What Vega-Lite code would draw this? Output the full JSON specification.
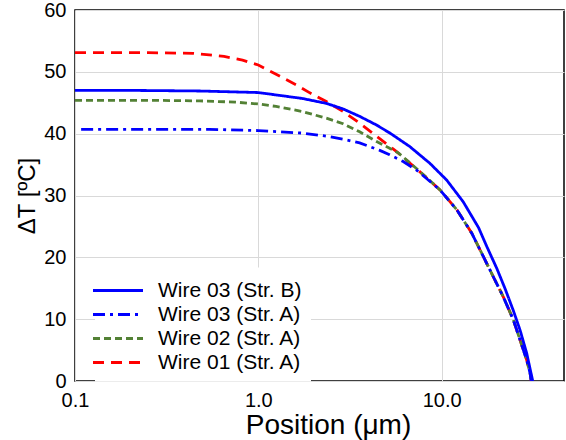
{
  "$schema": "https://vega.github.io/schema/vega-lite/v6.json",
  "width": 489,
  "height": 371,
  "autosize": {"type": "none"},
  "padding": {"left": 75, "top": 10, "right": 2, "bottom": 59},
  "background": "white",
  "config": {
    "font": "Liberation Sans",
    "view": {"stroke": "black", "strokeWidth": 1.5},
    "axis": {
      "grid": true, "gridColor": "#d9d9d9", "gridWidth": 1,
      "domain": false, "ticks": false,
      "labelFont": "Liberation Sans", "labelFontSize": 20, "labelColor": "black",
      "titleFont": "Liberation Sans", "titleFontWeight": "normal", "titleColor": "black"
    }
  },
  "data": {"values": [
    {"series": "Wire 01 (Str. A)", "x": 0.1, "y": 53.1},
    {"series": "Wire 01 (Str. A)", "x": 0.25, "y": 53.1},
    {"series": "Wire 01 (Str. A)", "x": 0.44, "y": 53.0},
    {"series": "Wire 01 (Str. A)", "x": 0.65, "y": 52.5},
    {"series": "Wire 01 (Str. A)", "x": 0.82, "y": 51.9},
    {"series": "Wire 01 (Str. A)", "x": 1.0, "y": 51.1},
    {"series": "Wire 01 (Str. A)", "x": 1.25, "y": 49.6},
    {"series": "Wire 01 (Str. A)", "x": 1.61, "y": 47.9},
    {"series": "Wire 01 (Str. A)", "x": 1.91, "y": 46.6},
    {"series": "Wire 01 (Str. A)", "x": 2.35, "y": 45.2},
    {"series": "Wire 01 (Str. A)", "x": 2.9, "y": 43.6},
    {"series": "Wire 01 (Str. A)", "x": 3.57, "y": 41.7},
    {"series": "Wire 01 (Str. A)", "x": 4.41, "y": 39.6},
    {"series": "Wire 01 (Str. A)", "x": 5.68, "y": 37.1},
    {"series": "Wire 01 (Str. A)", "x": 7.5, "y": 34.0},
    {"series": "Wire 01 (Str. A)", "x": 9.8, "y": 30.9},
    {"series": "Wire 01 (Str. A)", "x": 12.1, "y": 27.7},
    {"series": "Wire 01 (Str. A)", "x": 14.6, "y": 23.9},
    {"series": "Wire 01 (Str. A)", "x": 16.9, "y": 20.1},
    {"series": "Wire 01 (Str. A)", "x": 19.1, "y": 16.9},
    {"series": "Wire 01 (Str. A)", "x": 21.7, "y": 13.6},
    {"series": "Wire 01 (Str. A)", "x": 24.6, "y": 9.9},
    {"series": "Wire 01 (Str. A)", "x": 26.8, "y": 6.6},
    {"series": "Wire 01 (Str. A)", "x": 29.1, "y": 3.4},
    {"series": "Wire 01 (Str. A)", "x": 30.4, "y": 1.2},
    {"series": "Wire 01 (Str. A)", "x": 30.8, "y": 0},

    {"series": "Wire 02 (Str. A)", "x": 0.1, "y": 45.4},
    {"series": "Wire 02 (Str. A)", "x": 0.25, "y": 45.4},
    {"series": "Wire 02 (Str. A)", "x": 0.48, "y": 45.3},
    {"series": "Wire 02 (Str. A)", "x": 0.75, "y": 45.1},
    {"series": "Wire 02 (Str. A)", "x": 1.0, "y": 44.8},
    {"series": "Wire 02 (Str. A)", "x": 1.25, "y": 44.4},
    {"series": "Wire 02 (Str. A)", "x": 1.73, "y": 43.6},
    {"series": "Wire 02 (Str. A)", "x": 2.35, "y": 42.5},
    {"series": "Wire 02 (Str. A)", "x": 2.9, "y": 41.6},
    {"series": "Wire 02 (Str. A)", "x": 3.57, "y": 40.3},
    {"series": "Wire 02 (Str. A)", "x": 4.5, "y": 38.6},
    {"series": "Wire 02 (Str. A)", "x": 5.8, "y": 36.9},
    {"series": "Wire 02 (Str. A)", "x": 7.6, "y": 33.9},
    {"series": "Wire 02 (Str. A)", "x": 9.8, "y": 30.9},
    {"series": "Wire 02 (Str. A)", "x": 12.1, "y": 27.7},
    {"series": "Wire 02 (Str. A)", "x": 14.6, "y": 23.9},
    {"series": "Wire 02 (Str. A)", "x": 16.9, "y": 20.1},
    {"series": "Wire 02 (Str. A)", "x": 19.1, "y": 16.9},
    {"series": "Wire 02 (Str. A)", "x": 21.7, "y": 13.6},
    {"series": "Wire 02 (Str. A)", "x": 24.6, "y": 9.9},
    {"series": "Wire 02 (Str. A)", "x": 26.8, "y": 6.6},
    {"series": "Wire 02 (Str. A)", "x": 29.1, "y": 3.4},
    {"series": "Wire 02 (Str. A)", "x": 30.4, "y": 1.2},
    {"series": "Wire 02 (Str. A)", "x": 30.8, "y": 0},

    {"series": "Wire 03 (Str. A)", "x": 0.108, "y": 40.7},
    {"series": "Wire 03 (Str. A)", "x": 0.25, "y": 40.7},
    {"series": "Wire 03 (Str. A)", "x": 0.54, "y": 40.7},
    {"series": "Wire 03 (Str. A)", "x": 1.0, "y": 40.5},
    {"series": "Wire 03 (Str. A)", "x": 1.73, "y": 40.1},
    {"series": "Wire 03 (Str. A)", "x": 2.35, "y": 39.6},
    {"series": "Wire 03 (Str. A)", "x": 2.9, "y": 39.1},
    {"series": "Wire 03 (Str. A)", "x": 3.57, "y": 38.5},
    {"series": "Wire 03 (Str. A)", "x": 4.06, "y": 37.9},
    {"series": "Wire 03 (Str. A)", "x": 4.6, "y": 37.3},
    {"series": "Wire 03 (Str. A)", "x": 5.2, "y": 36.6},
    {"series": "Wire 03 (Str. A)", "x": 6.17, "y": 35.5},
    {"series": "Wire 03 (Str. A)", "x": 7.3, "y": 34.1},
    {"series": "Wire 03 (Str. A)", "x": 9.8, "y": 30.9},
    {"series": "Wire 03 (Str. A)", "x": 12.1, "y": 27.7},
    {"series": "Wire 03 (Str. A)", "x": 14.6, "y": 23.9},
    {"series": "Wire 03 (Str. A)", "x": 16.9, "y": 20.1},
    {"series": "Wire 03 (Str. A)", "x": 19.1, "y": 16.9},
    {"series": "Wire 03 (Str. A)", "x": 21.7, "y": 13.6},
    {"series": "Wire 03 (Str. A)", "x": 24.6, "y": 9.9},
    {"series": "Wire 03 (Str. A)", "x": 26.8, "y": 6.6},
    {"series": "Wire 03 (Str. A)", "x": 29.1, "y": 3.4},
    {"series": "Wire 03 (Str. A)", "x": 30.4, "y": 1.2},
    {"series": "Wire 03 (Str. A)", "x": 30.8, "y": 0},

    {"series": "Wire 03 (Str. B)", "x": 0.1, "y": 47.0},
    {"series": "Wire 03 (Str. B)", "x": 0.2, "y": 47.0},
    {"series": "Wire 03 (Str. B)", "x": 0.48, "y": 46.9},
    {"series": "Wire 03 (Str. B)", "x": 1.0, "y": 46.65},
    {"series": "Wire 03 (Str. B)", "x": 1.73, "y": 45.7},
    {"series": "Wire 03 (Str. B)", "x": 2.35, "y": 44.9},
    {"series": "Wire 03 (Str. B)", "x": 2.9, "y": 44.0},
    {"series": "Wire 03 (Str. B)", "x": 3.57, "y": 42.8},
    {"series": "Wire 03 (Str. B)", "x": 4.41, "y": 41.4},
    {"series": "Wire 03 (Str. B)", "x": 5.22, "y": 40.1},
    {"series": "Wire 03 (Str. B)", "x": 6.71, "y": 37.9},
    {"series": "Wire 03 (Str. B)", "x": 8.63, "y": 35.2},
    {"series": "Wire 03 (Str. B)", "x": 10.65, "y": 32.5},
    {"series": "Wire 03 (Str. B)", "x": 13.1, "y": 29.0},
    {"series": "Wire 03 (Str. B)", "x": 15.9, "y": 24.8},
    {"series": "Wire 03 (Str. B)", "x": 17.6, "y": 21.8},
    {"series": "Wire 03 (Str. B)", "x": 20.0, "y": 18.2},
    {"series": "Wire 03 (Str. B)", "x": 22.2, "y": 14.9},
    {"series": "Wire 03 (Str. B)", "x": 24.6, "y": 11.4},
    {"series": "Wire 03 (Str. B)", "x": 26.8, "y": 8.2},
    {"series": "Wire 03 (Str. B)", "x": 29.1, "y": 4.5},
    {"series": "Wire 03 (Str. B)", "x": 31.4, "y": 0}
  ]},
  "mark": {"type": "line", "strokeWidth": 2.8, "clip": true},
  "encoding": {
    "x": {
      "field": "x", "type": "quantitative",
      "scale": {"type": "log", "domain": [0.1, 46.5], "nice": false},
      "axis": {"values": [0.1, 1, 10], "format": ".1f", "labelFlush": false, "title": "Position (μm)", "titleFontSize": 28, "labelPadding": 9, "titlePadding": 1, "titleX": 253}
    },
    "y": {
      "field": "y", "type": "quantitative",
      "scale": {"domain": [0, 60], "nice": false},
      "axis": {"values": [0, 10, 20, 30, 40, 50, 60], "title": "ΔT [ºC]", "titleFontSize": 24, "labelPadding": 9, "titlePadding": 4}
    },
    "color": {
      "field": "series", "type": "nominal",
      "scale": {
        "domain": ["Wire 03 (Str. B)", "Wire 03 (Str. A)", "Wire 02 (Str. A)", "Wire 01 (Str. A)"],
        "range": ["#0000ff", "#0000ff", "#538135", "#ff0000"]
      },
      "legend": {
        "orient": "none", "legendX": 20, "legendY": 257.5, "title": null,
        "fillColor": "white", "padding": 9,
        "symbolType": "M-2,0L2,0", "symbolSize": 625, "symbolStrokeWidth": 3, "symbolFillColor": "transparent",
        "labelFont": "Liberation Sans", "labelFontSize": 21, "labelColor": "black",
        "labelOffset": 26, "rowPadding": 0, "labelLimit": 300
      }
    },
    "strokeDash": {
      "field": "series", "type": "nominal",
      "scale": {
        "domain": ["Wire 03 (Str. B)", "Wire 03 (Str. A)", "Wire 02 (Str. A)", "Wire 01 (Str. A)"],
        "range": [[1, 0], [12, 5, 3, 5], [7, 4], [11, 7]]
      }
    }
  }
}
